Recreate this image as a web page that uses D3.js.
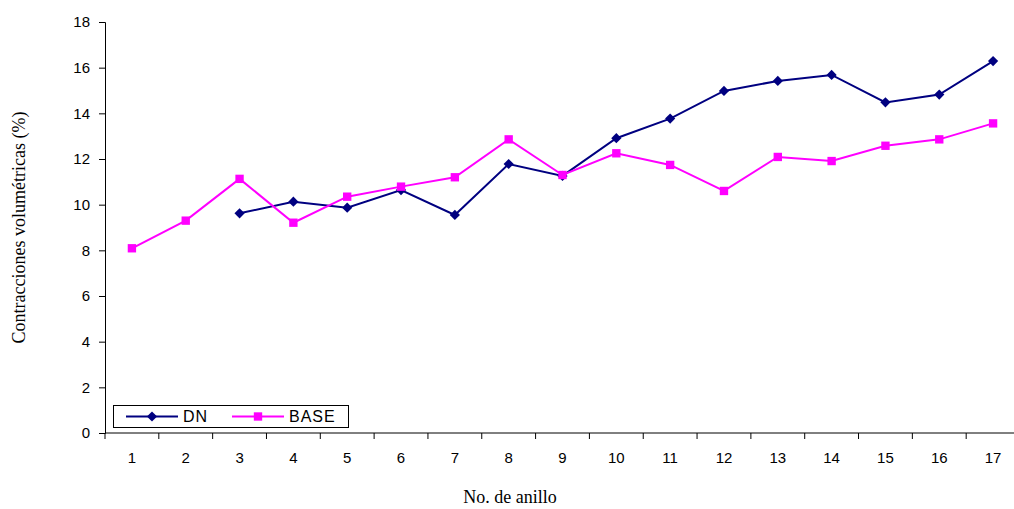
<!DOCTYPE html>
<html>
<head>
<meta charset="utf-8">
<script src="https://cdn.jsdelivr.net/npm/d3@7"></script>
<style>
  body { margin: 0; background: #fff; }
  svg text { fill: #000; }
</style>
</head>
<body>
<script>
// Data
const rings = d3.range(1, 18);                                                  // No. de anillo 1..17
const dnValues = [null, null, 9.62, 10.13, 9.87, 10.64, 9.55, 11.78, 11.26, 12.91, 13.77, 14.98, 15.42, 15.68, 14.48, 14.82, 16.29];
const baseValues = [8.09, 9.30, 11.13, 9.21, 10.35, 10.79, 11.2, 12.86, 11.3, 12.25, 11.74, 10.6, 12.09, 11.91, 12.58, 12.86, 13.56];
const yTicks = [0, 2, 4, 6, 8, 10, 12, 14, 16, 18];

const width = 1014, height = 509;
const margin = {top: 22, right: -6, bottom: 76, left: 105};

const svg = d3.select('body').append('svg')
  .attr('width', width)
  .attr('height', height);

// Scales
const x = d3.scaleBand()
  .domain(rings)
  .range([margin.left, width - margin.right]);

const y = d3.scaleLinear()
  .domain([0, 18])
  .range([height - margin.bottom, margin.top]);

// Axes
const yAxis = svg.append('g')
  .attr('transform', `translate(${margin.left},0)`)
  .call(d3.axisLeft(y).tickValues(yTicks).tickSize(6).tickPadding(9));
yAxis.selectAll('text').style('font', '15px Arial, "Liberation Sans", sans-serif');

const xAxis = svg.append('g')
  .attr('transform', `translate(0,${height - margin.bottom})`)
  .call(d3.axisBottom(x).tickSize(0).tickPadding(19));
xAxis.select('.domain').remove();
xAxis.selectAll('text').style('font', '15px Arial, "Liberation Sans", sans-serif');

// x-axis line and boundary ticks between categories
svg.append('line')
  .attr('x1', margin.left).attr('x2', width)
  .attr('y1', y(0)).attr('y2', y(0))
  .attr('stroke', '#000');
svg.append('g').selectAll('line')
  .data(rings)
  .join('line')
  .attr('x1', d => x(d)).attr('x2', d => x(d))
  .attr('y1', y(0)).attr('y2', y(0) + 6)
  .attr('stroke', '#000');

// Axis titles
svg.append('text')
  .attr('x', 510).attr('y', 503)
  .attr('text-anchor', 'middle')
  .style('font', '18px "Times New Roman", "Liberation Serif", serif')
  .text('No. de anillo');

svg.append('text')
  .attr('transform', `translate(25,${(y(0) + y(18)) / 2}) rotate(-90)`)
  .attr('text-anchor', 'middle')
  .style('font', '18px "Times New Roman", "Liberation Serif", serif')
  .text('Contracciones volumétricas (%)');

// Lines
const cx = d => x(d) + x.bandwidth() / 2;
const line = d3.line()
  .defined(d => d.v != null)
  .x(d => cx(d.r))
  .y(d => y(d.v));

const series = [
  {name: 'DN', values: dnValues, color: '#000080', symbol: d3.symbolSquare, size: 52, rot: 45},
  {name: 'BASE', values: baseValues, color: '#FF00FF', symbol: d3.symbolSquare, size: 70, rot: 0}
];

series.forEach(s => {
  const pts = rings.map((r, i) => ({r: r, v: s.values[i]}));
  svg.append('path')
    .datum(pts)
    .attr('fill', 'none')
    .attr('stroke', s.color)
    .attr('stroke-width', 2)
    .attr('d', line);
  svg.append('g').selectAll('path')
    .data(pts.filter(d => d.v != null))
    .join('path')
    .attr('d', d3.symbol().type(s.symbol).size(s.size))
    .attr('transform', d => `translate(${cx(d.r)},${y(d.v)}) rotate(${s.rot})`)
    .attr('fill', s.color);
});

// Legend
const legend = svg.append('g');
legend.append('rect')
  .attr('x', 113.5).attr('y', 405.5)
  .attr('width', 235).attr('height', 22)
  .attr('fill', '#fff').attr('stroke', '#000');
series.forEach((s, i) => {
  const lx = 126 + i * 106;
  legend.append('line')
    .attr('x1', lx).attr('x2', lx + 52)
    .attr('y1', 416.5).attr('y2', 416.5)
    .attr('stroke', s.color).attr('stroke-width', 2);
  legend.append('path')
    .attr('d', d3.symbol().type(s.symbol).size(s.size))
    .attr('transform', `translate(${lx + 26},416.5) rotate(${s.rot})`)
    .attr('fill', s.color);
  legend.append('text')
    .attr('x', lx + 57).attr('y', 422)
    .style('font', '16px Arial, "Liberation Sans", sans-serif')
    .style('letter-spacing', '1px')
    .text(s.name);
});
</script>
</body>
</html>
